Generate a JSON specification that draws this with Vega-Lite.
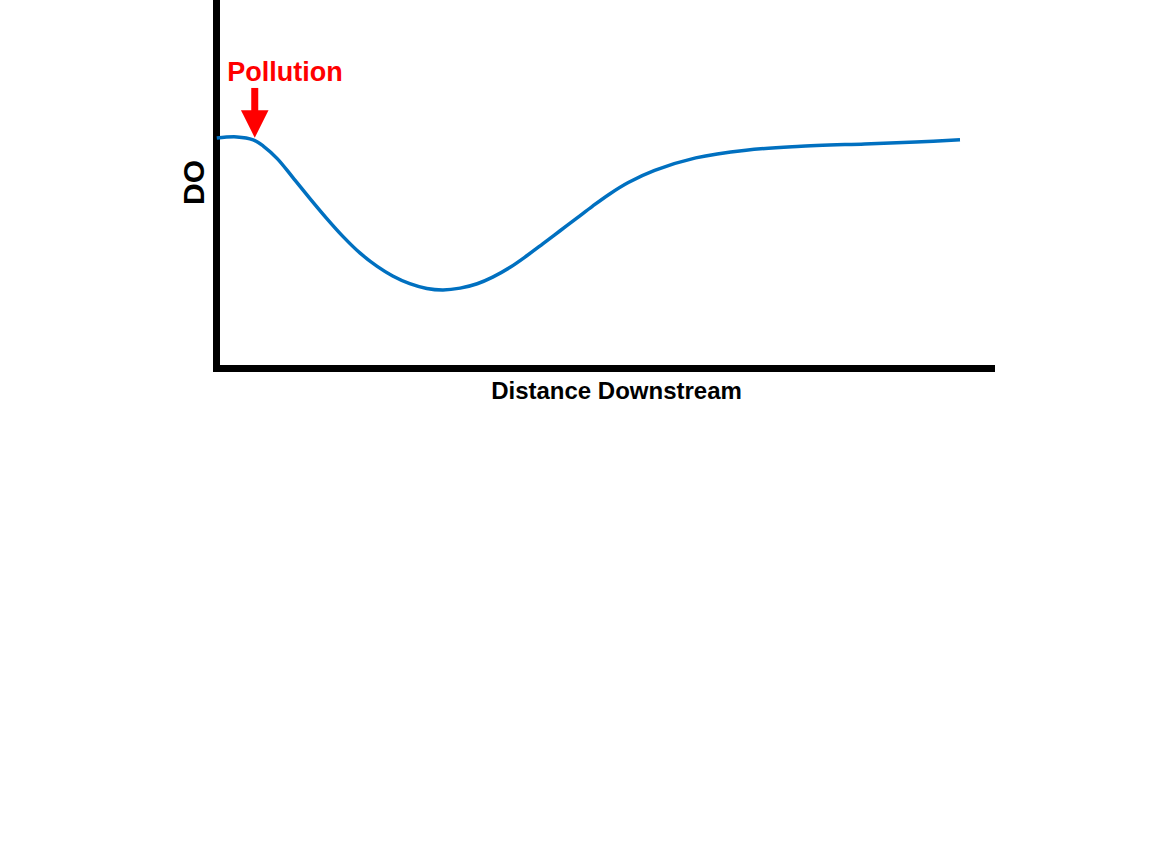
{
  "$schema": "https://vega.github.io/schema/vega-lite/v6.json",
  "description": "Dissolved oxygen sag curve downstream of pollution",
  "width": 775,
  "height": 368,
  "autosize": "none",
  "padding": {"left": 216, "top": 0, "right": 163, "bottom": 498},
  "background": "#ffffff",
  "config": {
    "view": {"stroke": null},
    "font": "Liberation Sans"
  },
  "datasets": {
    "curve": [
      {"distance": 0.1, "do": 62.5},
      {"distance": 2.7, "do": 62.8},
      {"distance": 4.8, "do": 62.0},
      {"distance": 6.1, "do": 60.3},
      {"distance": 7.9, "do": 56.9},
      {"distance": 9.9, "do": 51.8},
      {"distance": 12.1, "do": 46.1},
      {"distance": 14.3, "do": 40.6},
      {"distance": 16.4, "do": 35.7},
      {"distance": 18.6, "do": 31.2},
      {"distance": 20.8, "do": 27.6},
      {"distance": 22.8, "do": 25.0},
      {"distance": 25.0, "do": 22.9},
      {"distance": 27.2, "do": 21.6},
      {"distance": 29.3, "do": 21.2},
      {"distance": 31.5, "do": 21.7},
      {"distance": 33.7, "do": 22.9},
      {"distance": 35.7, "do": 24.7},
      {"distance": 37.9, "do": 27.3},
      {"distance": 40.1, "do": 30.5},
      {"distance": 42.2, "do": 33.8},
      {"distance": 44.4, "do": 37.3},
      {"distance": 46.6, "do": 40.8},
      {"distance": 48.6, "do": 44.0},
      {"distance": 50.8, "do": 47.3},
      {"distance": 53.2, "do": 50.4},
      {"distance": 56.6, "do": 53.7},
      {"distance": 61.9, "do": 57.1},
      {"distance": 68.4, "do": 59.2},
      {"distance": 75.0, "do": 60.2},
      {"distance": 83.7, "do": 60.9},
      {"distance": 90.3, "do": 61.4},
      {"distance": 96.0, "do": 62.0}
    ],
    "pollution": [
      {"distance": 5.0, "top": 76.1, "shaftEnd": 69.0, "head": 66.3, "labelY": 80.2, "labelX": 8.9, "label": "Pollution"}
    ]
  },
  "layer": [
    {
      "data": {"name": "curve"},
      "mark": {"type": "line", "interpolate": "catmull-rom", "color": "#0070C0", "strokeWidth": 3.5},
      "encoding": {
        "x": {
          "field": "distance",
          "type": "quantitative",
          "scale": {"domain": [0, 100]},
          "title": "Distance Downstream",
          "axis": {
            "domainColor": "black",
            "domainWidth": 7,
            "domainCap": "square",
            "ticks": false,
            "labels": false,
            "grid": false,
            "titleFont": "Liberation Sans",
            "titleFontSize": 24,
            "titleFontWeight": "bold",
            "titleColor": "black",
            "titleX": 400,
            "titleY": 30,
            "titleAlign": "center",
            "titleBaseline": "alphabetic"
          }
        },
        "y": {
          "field": "do",
          "type": "quantitative",
          "scale": {"domain": [0, 100]},
          "title": "DO",
          "axis": {
            "domainColor": "black",
            "domainWidth": 7,
            "domainCap": "square",
            "ticks": false,
            "labels": false,
            "grid": false,
            "titleFont": "Liberation Sans",
            "titleFontSize": 30,
            "titleFontWeight": "bold",
            "titleColor": "black",
            "titleX": -13,
            "titleY": 182,
            "titleAngle": -90,
            "titleAlign": "center",
            "titleBaseline": "alphabetic"
          }
        }
      }
    },
    {
      "data": {"name": "pollution"},
      "mark": {"type": "rule", "color": "#FF0000", "strokeWidth": 7},
      "encoding": {
        "x": {"field": "distance", "type": "quantitative"},
        "y": {"field": "top", "type": "quantitative"},
        "y2": {"field": "shaftEnd"}
      }
    },
    {
      "data": {"name": "pollution"},
      "mark": {"type": "point", "shape": "M-1,-1L1,-1L0,1Z", "size": 760, "filled": true, "color": "#FF0000", "opacity": 1, "strokeWidth": 0},
      "encoding": {
        "x": {"field": "distance", "type": "quantitative"},
        "y": {"field": "head", "type": "quantitative"}
      }
    },
    {
      "data": {"name": "pollution"},
      "mark": {"type": "text", "color": "#FF0000", "font": "Liberation Sans", "fontSize": 27, "fontWeight": "bold", "align": "center", "baseline": "middle"},
      "encoding": {
        "x": {"field": "labelX", "type": "quantitative"},
        "y": {"field": "labelY", "type": "quantitative"},
        "text": {"field": "label"}
      }
    }
  ]
}
